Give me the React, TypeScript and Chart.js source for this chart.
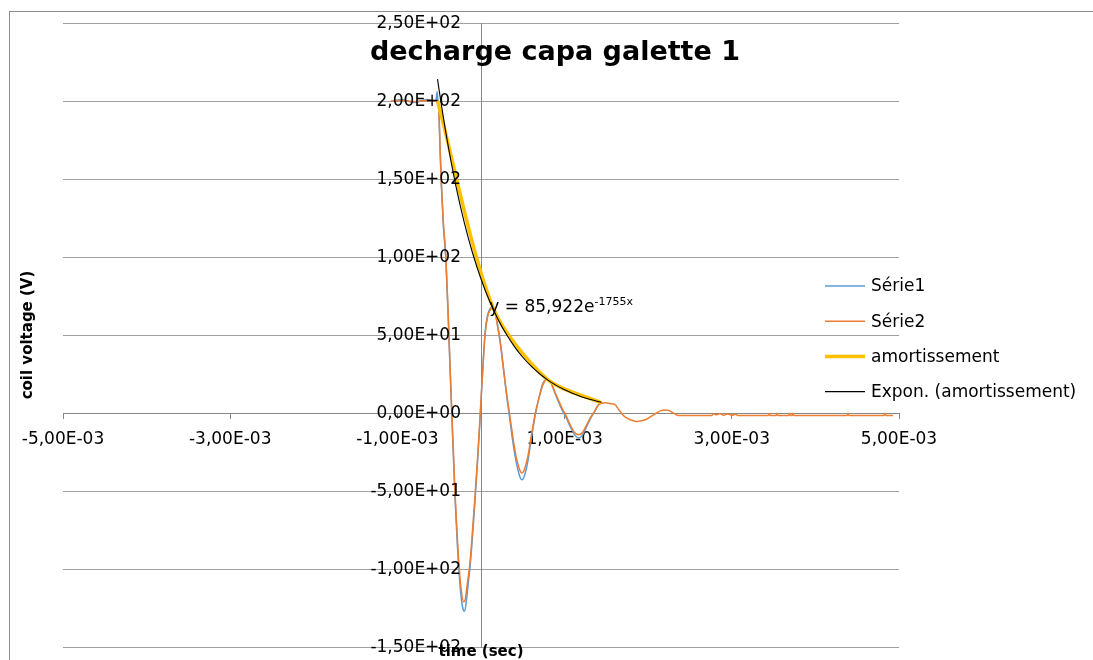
import React, { useEffect, useRef } from "react";
import { Chart, registerables } from "chart.js";

Chart.register(...registerables);

const FONT = '"DejaVu Sans", "Liberation Sans", sans-serif';

const chartTitle = "decharge capa galette 1";
const xTitle = "time (sec)";
const yTitle = "coil voltage (V)";

const xTicks = [-5e-3, -3e-3, -1e-3, 1e-3, 3e-3, 5e-3];
const yTicks = [-150, -100, -50, 0, 50, 100, 150, 200, 250];

const serie1Time = [
  -1.06e-3, -0.95e-3, -0.8e-3, -0.65e-3, -0.54e-3, -0.525e-3, -0.515e-3, -0.505e-3, -0.49e-3, -0.475e-3,
  -0.45e-3, -0.42e-3, -0.39e-3, -0.37e-3, -0.35e-3, -0.33e-3, -0.31e-3, -0.285e-3, -0.26e-3, -0.235e-3,
  -0.21e-3, -0.195e-3, -0.17e-3, -0.15e-3, -0.13e-3, -0.1e-3, -0.07e-3, -0.04e-3, -0.01e-3, 0.02e-3,
  0.05e-3, 0.08e-3, 0.11e-3, 0.14e-3, 0.17e-3, 0.2e-3, 0.23e-3, 0.26e-3, 0.3e-3, 0.34e-3,
  0.38e-3, 0.42e-3, 0.46e-3, 0.49e-3, 0.52e-3, 0.56e-3, 0.6e-3, 0.65e-3, 0.7e-3, 0.74e-3,
  0.79e-3, 0.83e-3, 0.87e-3, 0.92e-3, 0.97e-3, 1.02e-3, 1.07e-3, 1.12e-3, 1.17e-3, 1.22e-3,
  1.27e-3, 1.32e-3, 1.36e-3, 1.4e-3, 1.44e-3,
];
const serie1Volt = [
  200, 201, 199, 201, 200, 206, 200, 195, 170, 148,
  120, 98, 58, 28, 0, -28, -55, -82, -104, -119,
  -126.5, -127, -118, -108, -98, -78, -55, -30, -3, 27,
  52, 63, 67, 68, 64, 56, 46, 33, 14, -2,
  -18, -31, -40, -42.8, -40, -31, -17, -1, 11, 19,
  21.7, 20.5, 15, 8, 2, -3, -9, -14, -16, -13.5,
  -8, -2.5, 1, 5, 6.5,
];

const serie2Time = [
  -1.08e-3, -0.95e-3, -0.8e-3, -0.65e-3, -0.52e-3, -0.505e-3, -0.49e-3, -0.475e-3, -0.45e-3, -0.42e-3,
  -0.39e-3, -0.37e-3, -0.35e-3, -0.33e-3, -0.31e-3, -0.285e-3, -0.26e-3, -0.235e-3, -0.21e-3, -0.19e-3,
  -0.17e-3, -0.15e-3, -0.13e-3, -0.1e-3, -0.07e-3, -0.04e-3, -0.01e-3, 0.02e-3, 0.05e-3, 0.08e-3,
  0.11e-3, 0.14e-3, 0.17e-3, 0.2e-3, 0.23e-3, 0.26e-3, 0.3e-3, 0.34e-3, 0.38e-3, 0.42e-3,
  0.46e-3, 0.49e-3, 0.52e-3, 0.56e-3, 0.6e-3, 0.65e-3, 0.7e-3, 0.74e-3, 0.79e-3, 0.83e-3,
  0.87e-3, 0.92e-3, 0.97e-3, 1.02e-3, 1.07e-3, 1.12e-3, 1.17e-3, 1.22e-3, 1.27e-3, 1.32e-3,
  1.36e-3, 1.4e-3, 1.44e-3, 1.49e-3, 1.55e-3, 1.6e-3, 1.65e-3, 1.7e-3, 1.75e-3, 1.8e-3,
  1.86e-3, 1.92e-3, 1.98e-3, 2.04e-3, 2.1e-3, 2.15e-3, 2.2e-3, 2.25e-3, 2.3e-3, 2.36e-3,
  2.5e-3, 2.76e-3, 2.78e-3, 2.82e-3, 2.86e-3, 2.9e-3, 2.95e-3, 3.0e-3, 3.05e-3, 3.07e-3,
  3.44e-3, 3.45e-3, 3.46e-3, 3.53e-3, 3.54e-3, 3.55e-3, 3.68e-3, 3.69e-3, 3.7e-3, 3.72e-3,
  3.73e-3, 3.74e-3, 4.38e-3, 4.39e-3, 4.4e-3, 4.82e-3, 4.83e-3, 4.84e-3, 4.93e-3,
];
const serie2Volt = [
  200, 200.5, 199.5, 200.5, 200, 196, 170, 148, 122, 100,
  60, 30, 2, -25, -52, -78, -100, -114, -121, -120,
  -112, -104, -95, -74, -52, -28, -1, 27, 51, 62,
  66, 68, 64, 55, 45, 32, 15, 0, -15, -28,
  -36, -38.5, -36, -28, -15, 0, 11, 18, 21.7, 20,
  15, 9, 3, -2, -8, -12.5, -14, -12, -7, -2,
  1, 5, 6.3, 6.5, 6, 5.5, 2, -1.5, -3.5, -4.5,
  -5.4, -5, -4, -2, 0, 1.5, 2, 1.5, 0, -1.6,
  -1.6, -1.6, -0.5, -1.2, -0.3, -1.4, -0.6, -1.5, -0.8, -1.6,
  -1.6, -0.2, -1.6, -1.6, -0.2, -1.6, -1.6, -0.2, -1.6, -1.6,
  -0.2, -1.6, -1.6, -0.2, -1.6, -1.6, -0.2, -1.6, -1.6,
];

const dampTime = [-0.52e-3, 0.14e-3, 0.79e-3, 1.44e-3];
const dampVolt = [200, 68, 21.7, 6.5];

// Exponential trendline y = 85,922 e^(-1755x), values at listed times
const trendTime = [
  -0.52e-3, -0.5e-3, -0.4e-3, -0.3e-3, -0.2e-3, -0.1e-3, 0, 0.1e-3, 0.2e-3, 0.3e-3, 0.4e-3,
  0.5e-3, 0.6e-3, 0.7e-3, 0.8e-3, 0.9e-3, 1.0e-3, 1.1e-3, 1.2e-3, 1.3e-3, 1.4e-3, 1.44e-3,
];
const trendVolt = [
  214.0, 206.6, 173.4, 145.5, 122.1, 102.4, 85.92, 72.09, 60.49, 50.75, 42.58,
  35.73, 29.98, 25.15, 21.1, 17.71, 14.86, 12.47, 10.46, 8.78, 7.36, 6.87,
];
const trendLabel = "y = 85,922e";
const trendExp = "-1755x";

const seriesNames = ["Série1", "Série2", "amortissement", "Expon. (amortissement)"];
const seriesColors = ["#5B9BD5", "#ED7D31", "#FFC000", "#000000"];
const seriesWidths = [1.5, 1.5, 3.5, 1.1];

const GRID = "#a0a0a0";
const AXIS = "#868686";

function fmtE(v: number): string {
  if (Math.abs(v) < 1e-12) return "0,00E+00";
  const s = v.toExponential(2);
  const [m, e] = s.split("e");
  const exp = parseInt(e, 10);
  const sign = exp < 0 ? "-" : "+";
  return m.replace(".", ",") + "E" + sign + String(Math.abs(exp)).padStart(2, "0");
}

const toPts = (xs: number[], ys: number[]) => xs.map((x, i) => ({ x, y: ys[i] }));

const decorPlugin = {
  id: "decor",
  beforeDraw(chart: any) {
    const ctx = chart.ctx;
    ctx.save();
    ctx.fillStyle = "#ffffff";
    ctx.fillRect(0, 0, chart.width, chart.height);
    ctx.strokeStyle = "#8c8c8c";
    ctx.lineWidth = 1;
    ctx.strokeRect(9.5, 11.5, chart.width + 40, chart.height + 40);
    ctx.restore();
  },
  afterDraw(chart: any) {
    const { ctx, chartArea, scales } = chart;
    const xs = scales.x;
    const ys = scales.y;
    const axisX = xs.getPixelForValue(0);
    ctx.save();
    // y tick labels
    ctx.font = `17px ${FONT}`;
    ctx.fillStyle = "#000";
    ctx.textAlign = "right";
    ctx.textBaseline = "middle";
    yTicks.forEach((v) => ctx.fillText(fmtE(v), axisX - 20, ys.getPixelForValue(v) + 1));

    // trendline equation
    ctx.textAlign = "left";
    ctx.textBaseline = "alphabetic";
    const ex = xs.getPixelForValue(0.1e-3);
    const ey = ys.getPixelForValue(65);
    ctx.font = `17px ${FONT}`;
    ctx.fillText(trendLabel, ex, ey);
    const w = ctx.measureText(trendLabel).width;
    ctx.font = `11px ${FONT}`;
    ctx.fillText(trendExp, ex + w, ey - 7);

    // title
    ctx.font = `bold 27px ${FONT}`;
    ctx.textAlign = "center";
    ctx.fillText(chartTitle, 555, 60);

    // x axis title
    ctx.font = `bold 15px ${FONT}`;
    ctx.fillText(xTitle, (chartArea.left + chartArea.right) / 2, 656);

    // legend
    ctx.textAlign = "left";
    ctx.textBaseline = "middle";
    ctx.font = `17px ${FONT}`;
    chart.data.datasets.forEach((ds: any, i: number) => {
      const y = 286 + i * 35.2;
      ctx.strokeStyle = ds.borderColor;
      ctx.lineWidth = ds.borderWidth;
      ctx.beginPath();
      ctx.moveTo(825, y);
      ctx.lineTo(865, y);
      ctx.stroke();
      ctx.fillStyle = "#000";
      ctx.fillText(ds.label, 871, y + 1);
    });

    // y axis title
    ctx.translate(28, (chartArea.top + chartArea.bottom) / 2);
    ctx.rotate(-Math.PI / 2);
    ctx.font = `bold 15px ${FONT}`;
    ctx.textAlign = "center";
    ctx.textBaseline = "middle";
    ctx.fillText(yTitle, 0, 0);
    ctx.restore();
  },
};

export default function App() {
  const ref = useRef<HTMLCanvasElement | null>(null);

  useEffect(() => {
    if (!ref.current) return;
    const series = [
      toPts(serie1Time, serie1Volt),
      toPts(serie2Time, serie2Volt),
      toPts(dampTime, dampVolt),
      toPts(trendTime, trendVolt),
    ];
    const chart = new Chart(ref.current, {
      type: "scatter",
      data: {
        datasets: series.map((data, i) => ({
          label: seriesNames[i],
          data,
          showLine: true,
          borderColor: seriesColors[i],
          backgroundColor: seriesColors[i],
          borderWidth: seriesWidths[i],
          pointRadius: 0,
          pointHoverRadius: 0,
          fill: false,
          order: 3 - i,
          tension: i === 2 ? 0.28 : 0,
          cubicInterpolationMode: i === 2 ? "default" : "monotone",
        })),
      },
      options: {
        animation: false,
        responsive: false,
        devicePixelRatio: 1,
        layout: { padding: { left: 63, top: 23, right: 194, bottom: 13 } },
        plugins: {
          legend: { display: false },
          title: { display: false },
          tooltip: { enabled: false },
        },
        scales: {
          x: {
            type: "linear",
            min: -5e-3,
            max: 5e-3,
            position: { y: 0 } as any,
            afterBuildTicks: (s: any) => {
              s.ticks = xTicks.map((v) => ({ value: v }));
            },
            grid: {
              display: true,
              drawOnChartArea: false,
              drawTicks: true,
              tickLength: 5,
              color: AXIS,
            },
            border: { display: true, color: AXIS, width: 1 },
            ticks: {
              callback: (v: any) => fmtE(Number(v)),
              font: { family: FONT, size: 17 },
              color: "#000",
              padding: 11,
              maxRotation: 0,
              minRotation: 0,
              autoSkip: false,
            },
          },
          y: {
            type: "linear",
            min: -150,
            max: 250,
            position: { x: 0 } as any,
            afterBuildTicks: (s: any) => {
              s.ticks = yTicks.map((v) => ({ value: v }));
            },
            grid: { display: true, drawTicks: false, color: GRID, lineWidth: 1 },
            border: { display: true, color: AXIS, width: 1 },
            ticks: { display: false },
          },
        },
      },
      plugins: [decorPlugin],
    });
    return () => chart.destroy();
  }, []);

  return (
    <div style={{ position: "absolute", left: 0, top: 0, width: 1093, height: 660, background: "#fff" }}>
      <canvas ref={ref} width={1093} height={660} style={{ display: "block", width: 1093, height: 660 }} />
    </div>
  );
}
